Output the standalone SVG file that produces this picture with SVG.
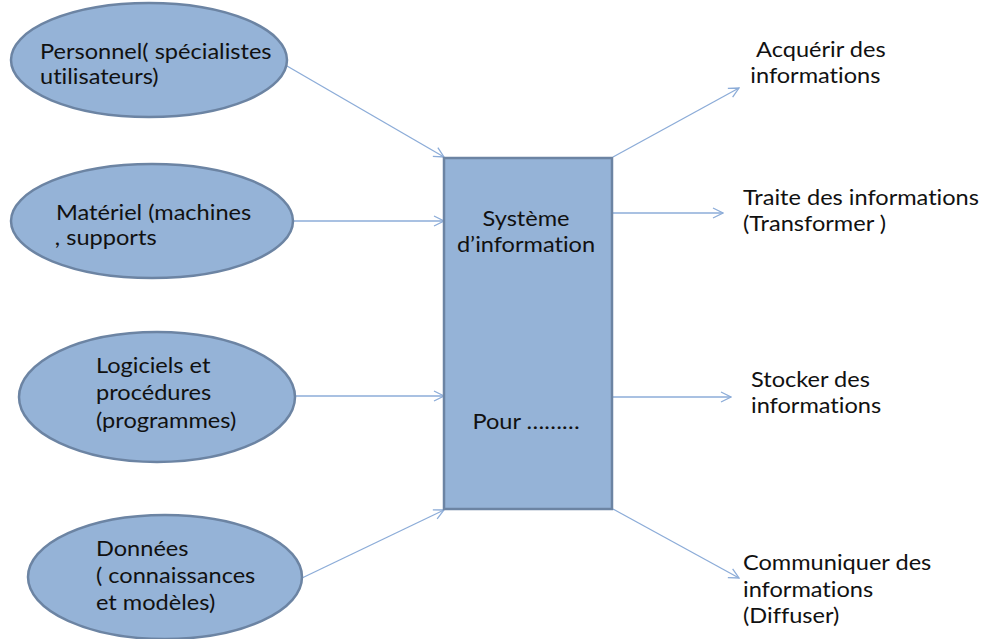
<svg xmlns="http://www.w3.org/2000/svg" width="991" height="639" viewBox="0 0 991 639">
  <style>
    .node { fill: #95b3d7; stroke: #6c84a3; stroke-width: 2.5; }
    .lbl { font-family: Lato, "Open Sans", sans-serif; font-size: 20.5px; fill: #111; font-variant-ligatures: none; }
    .mid { text-anchor: middle; }
    .edge { fill: none; stroke: #8cacd8; stroke-width: 1.3; marker-end: url(#open); }
  </style>
  <defs>
    <marker id="open" viewBox="0 0 12 12" refX="11" refY="6" markerWidth="12" markerHeight="12" markerUnits="userSpaceOnUse" orient="auto">
      <path d="M1,1 L11,6 L1,11" fill="none" stroke="#8cacd8" stroke-width="1.3"/>
    </marker>
  </defs>
  <rect width="991" height="639" fill="#fff"/>

  <!-- connectors -->
  <g id="connectors">
    <line class="edge" x1="287" y1="66" x2="444" y2="157"/>
    <line class="edge" x1="293" y1="221" x2="444" y2="221"/>
    <line class="edge" x1="295" y1="396" x2="444" y2="396"/>
    <line class="edge" x1="302" y1="578" x2="444" y2="510"/>
    <line class="edge" x1="613" y1="157" x2="739" y2="88"/>
    <line class="edge" x1="613" y1="213" x2="723" y2="213"/>
    <line class="edge" x1="613" y1="397" x2="731" y2="397"/>
    <line class="edge" x1="613" y1="509" x2="739" y2="578"/>
  </g>

  <!-- inputs (labels are drawn slightly widened) -->
  <g id="personnel">
    <ellipse class="node" cx="149" cy="60" rx="138" ry="57"/>
    <g transform="translate(40,0) scale(1.15,1)">
      <text class="lbl" x="0" y="59">Personnel( spécialistes</text>
      <text class="lbl" x="0" y="84">utilisateurs)</text>
    </g>
  </g>
  <g id="materiel">
    <ellipse class="node" cx="152" cy="221" rx="141" ry="57"/>
    <g transform="translate(56,0) scale(1.15,1)">
      <text class="lbl" x="0" y="220">Matériel (machines</text>
      <text class="lbl" x="-1" y="245">, supports</text>
    </g>
  </g>
  <g id="logiciels">
    <ellipse class="node" cx="157" cy="397" rx="138" ry="65"/>
    <g transform="translate(96,0) scale(1.15,1)">
      <text class="lbl" x="0" y="373">Logiciels et</text>
      <text class="lbl" x="0" y="400">procédures</text>
      <text class="lbl" x="0" y="428">(programmes)</text>
    </g>
  </g>
  <g id="donnees">
    <ellipse class="node" cx="165" cy="577" rx="137" ry="62"/>
    <g transform="translate(96,0) scale(1.15,1)">
      <text class="lbl" x="0" y="556">Données</text>
      <text class="lbl" x="0" y="583">( connaissances</text>
      <text class="lbl" x="0" y="610">et modèles)</text>
    </g>
  </g>

  <!-- central system -->
  <g id="systeme">
    <rect class="node" x="444" y="158" width="168" height="351"/>
    <g transform="translate(526,0) scale(1.15,1)">
      <text class="lbl mid" x="0" y="226">Système</text>
      <text class="lbl mid" x="0" y="252">d’information</text>
      <text class="lbl mid" x="0" y="429">Pour ………</text>
    </g>
  </g>

  <!-- outputs -->
  <g id="acquerir" transform="translate(756,0) scale(1.15,1)">
    <text class="lbl" x="0" y="57">Acquérir des</text>
    <text class="lbl" x="-5" y="83">informations</text>
  </g>
  <g id="traiter" transform="translate(743,0) scale(1.15,1)">
    <text class="lbl" x="0" y="205">Traite des informations</text>
    <text class="lbl" x="0" y="231">(Transformer )</text>
  </g>
  <g id="stocker" transform="translate(751,0) scale(1.15,1)">
    <text class="lbl" x="0" y="387">Stocker des</text>
    <text class="lbl" x="0" y="413">informations</text>
  </g>
  <g id="communiquer" transform="translate(743,0) scale(1.15,1)">
    <text class="lbl" x="0" y="570">Communiquer des</text>
    <text class="lbl" x="0" y="597">informations</text>
    <text class="lbl" x="0" y="623">(Diffuser)</text>
  </g>
</svg>
